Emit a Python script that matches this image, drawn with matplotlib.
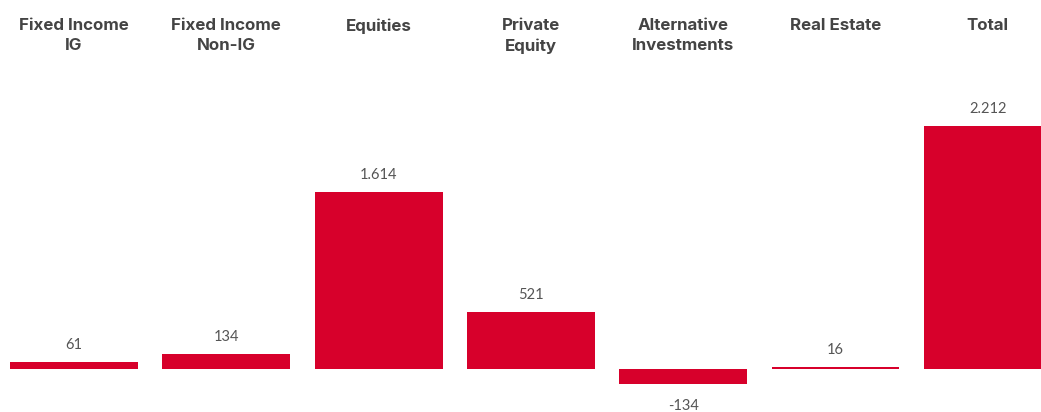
import matplotlib.pyplot as plt

categories = ["Fixed Income\nIG", "Fixed Income\nNon-IG", "Equities", "Private\nEquity",
              "Alternative\nInvestments", "Real Estate", "Total"]
values = [61, 134, 1614, 521, -134, 16, 2212]
labels = ["61", "134", "1.614", "521", "-134", "16", "2.212"]

RED = "#d7002b"
PX_PER_UNIT = 243 / 2212  # pixel per value unit in the reference


def plot_data():
    fig = plt.figure(figsize=(10.41, 4.12), dpi=100)
    ax = fig.add_axes([0, 0, 1, 1])
    x = list(range(len(values)))
    ax.bar(x, values, width=0.84, color=RED, linewidth=0)

    # axes limits in data units so bars land where they do in the picture
    ax.set_xlim(-74 / 152.3, (1041 - 74) / 152.3)
    ax.set_ylim(-(412 - 369) / PX_PER_UNIT, 369 / PX_PER_UNIT)

    for i, (v, lab) in enumerate(zip(values, labels)):
        if v >= 0:
            ax.annotate(lab, (i, v), xytext=(0, 10), textcoords="offset pixels",
                        ha="center", va="bottom", fontsize=10.5, color="#555555",
                        family="Lato")
        else:
            ax.annotate(lab, (i, v), xytext=(0, -15), textcoords="offset pixels",
                        ha="center", va="top", fontsize=10.5, color="#555555",
                        family="Lato")

    for i, cat in enumerate(categories):
        ax.text(i, 1 - 18 / 412, cat, transform=ax.get_xaxis_transform(),
                ha="center", va="top", fontsize=12.2, fontweight="bold",
                color="#444444", family="Inter", linespacing=1.45)

    ax.axis("off")
    fig.savefig("out.png", dpi=100, facecolor="white")


if __name__ == '__main__':
    plot_data()
